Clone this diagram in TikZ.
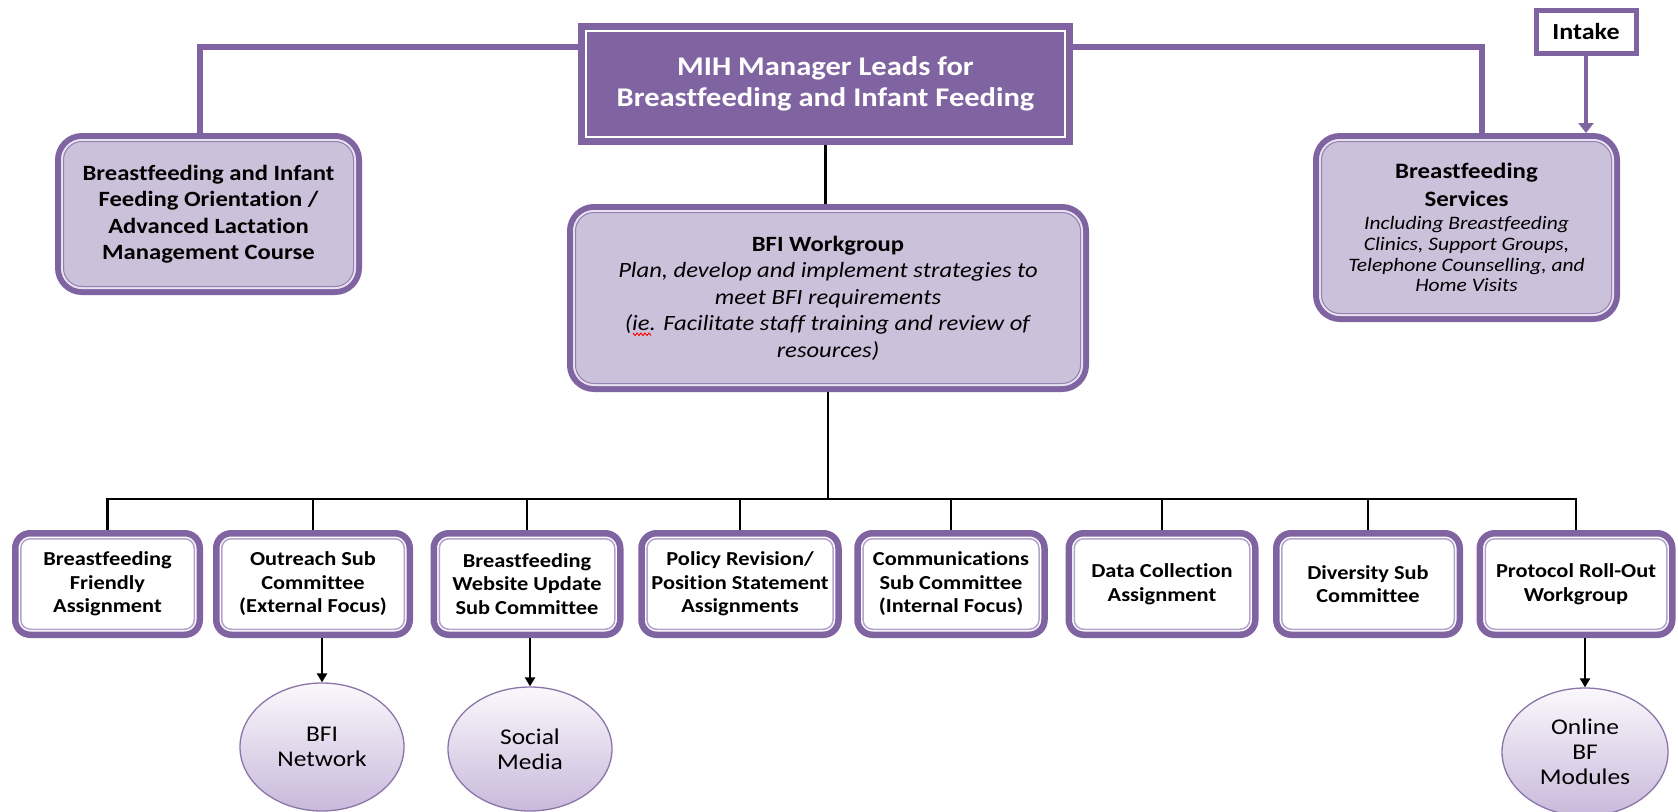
\documentclass[tikz,border=0pt]{standalone}
\usepackage{fontspec}
\setmainfont{Carlito}[FakeStretch=1.13,Ligatures=NoCommon]
\usetikzlibrary{arrows.meta,shapes.geometric}
\definecolor{pmain}{HTML}{8064A2}
\definecolor{plav}{HTML}{CCC1DA}
\definecolor{pline}{HTML}{B4A3CC}
\definecolor{plight}{HTML}{E8E2F0}
\definecolor{pthin}{HTML}{9580B2}
\definecolor{pedge}{HTML}{8A75A9}
\definecolor{ptop}{HTML}{FAF8FC}
\definecolor{pbot}{HTML}{C9B9DB}
\begin{document}
\begin{tikzpicture}[x=1pt,y=-1pt,
  every node/.style={inner sep=0pt, align=center},
  mihbox/.style={fill=pmain, text=white, minimum width=495pt, minimum height=122pt, font=\fontsize{27}{31}\selectfont\bfseries},
  lavbox/.style={draw=pmain, line width=6pt, fill=plav, rounded corners=24pt},
  subbox/.style={draw=pmain, line width=6.5pt, fill=white, rounded corners=15pt, minimum height=101.5pt, font=\fontsize{19.8}{23.5}\selectfont\bfseries},
  intakebox/.style={draw=pmain, line width=5pt, fill=white, minimum width=100pt, minimum height=43pt, font=\fontsize{23}{25}\selectfont\bfseries},
  oval/.style={ellipse, draw=pedge, line width=1.3pt, top color=ptop, bottom color=pbot, font=\fontsize{22.5}{25}\selectfont},
  bline/.style={line width=2.5pt, draw=black},
  barrow/.style={bline, -{Triangle[width=10pt,length=9pt]}},
  pconn/.style={draw=pmain, line width=6pt},
  parrow/.style={draw=pmain, line width=4pt, -{Triangle[width=15pt,length=10pt]}},
  wline/.style={draw=pline, line width=1.5pt},
  lline/.style={draw=plight, line width=2pt},
  tline/.style={draw=pthin, line width=1pt},
  squig/.style={draw=red, line width=0.9pt},
]
\fill[white] (0,0) rectangle (1678,811);
\useasboundingbox (0,0) rectangle (1678,811);

% top
\node[mihbox] (mih) at (825.5,84) {MIH Manager Leads for\\Breastfeeding and Infant Feeding};
\draw[white, line width=2pt] ([xshift=8pt,yshift=-8pt]mih.north west) rectangle ([xshift=-8pt,yshift=8pt]mih.south east);

\node[lavbox, minimum width=301pt, minimum height=156pt, font=\fontsize{21.8}{26.5}\selectfont\bfseries] (orient) at (208.5,214)
  {Breastfeeding and Infant\\Feeding Orientation /\\Advanced Lactation\\Management Course};

\node[lavbox, minimum width=301pt, minimum height=183pt, font=\fontsize{19}{20.8}\selectfont\itshape] (serv) at (1466.5,227.5)
  {{\fontsize{22}{26}\selectfont\bfseries\upshape Breastfeeding}\\[7pt]
   {\fontsize{22}{26}\selectfont\bfseries\upshape Services}\\[2.5pt]
   Including Breastfeeding\\Clinics, Support Groups,\\Telephone Counselling, and\\Home Visits};

\node[intakebox] (intake) at (1586,32) {Intake};

\node[lavbox, minimum width=516pt, minimum height=182pt, font=\fontsize{21.8}{26.5}\selectfont] (bfi) at (828,298)
  {\textbf{BFI Workgroup}\\\textit{Plan, develop and implement strategies to}\\\textit{meet BFI requirements}\\\textit{(ie. Facilitate staff training and review of}\\\textit{resources)}};
% spell-check mark under "ie"
\draw[squig] (633,333) -- (635,335.5) -- (637,333) -- (639,335.5) -- (641,333) -- (643,335.5) -- (645,333) -- (647,335.5) -- (649,333) -- (651,335.5);

\foreach \n in {orient,bfi,serv}{
  \draw[lline, rounded corners=20pt] ([xshift=7pt,yshift=-7pt]\n.north west) rectangle ([xshift=-7pt,yshift=7pt]\n.south east);
  \draw[tline, rounded corners=18.5pt] ([xshift=8.5pt,yshift=-8.5pt]\n.north west) rectangle ([xshift=-8.5pt,yshift=8.5pt]\n.south east);
}

% bottom row
\node[subbox, minimum width=184.5pt] (b1) at (107.5,584) {Breastfeeding\\Friendly\\Assignment};
\node[subbox, minimum width=193.5pt] (b2) at (313,584) {Outreach Sub\\Committee\\(External Focus)};
\node[subbox, minimum width=186.5pt] (b3) at (527,584) {Breastfeeding\\Website Update\\Sub Committee};
\node[subbox, minimum width=197pt] (b4) at (740,584) {Policy Revision/\\Position Statement\\Assignments};
\node[subbox, minimum width=187pt] (b5) at (951,584) {Communications\\Sub Committee\\(Internal Focus)};
\node[subbox, minimum width=186.5pt] (b6) at (1162,584) {Data Collection\\Assignment};
\node[subbox, minimum width=183.5pt] (b7) at (1368,584) {Diversity Sub\\Committee};
\node[subbox, minimum width=192.5pt] (b8) at (1576,584) {Protocol Roll-Out\\Workgroup};

\foreach \n in {b1,b2,b3,b4,b5,b6,b7,b8}{
  \draw[wline, rounded corners=9.5pt] ([xshift=8.75pt,yshift=-8.75pt]\n.north west) rectangle ([xshift=-8.75pt,yshift=8.75pt]\n.south east);
}

\node[oval, minimum width=164pt, minimum height=128pt] (e1) at (322,747) {BFI\\Network};
\node[oval, minimum width=164pt, minimum height=124pt] (e2) at (530,749) {Social\\Media};
\node[oval, minimum width=166pt, minimum height=128pt] (e3) at (1585,752) {Online\\BF\\Modules};

% connectors
\coordinate (lt) at (200,47);
\coordinate (rt) at (1482,47);
\coordinate (bus) at (0,499);
\draw[pconn] (mih.west |- lt) -- (lt) -- (lt |- orient.north);
\draw[pconn] (mih.east |- rt) -- (rt) -- (rt |- serv.north);
\draw[parrow] (intake.south) -- (intake.south |- serv.north);

\draw[bline] (mih.south) -- (mih.south |- bfi.north);
\draw[bline] (bfi.south) -- (bfi.south |- bus);
\draw[bline] (b1.north) -- (b1.north |- bus) -- (b8.north |- bus) -- (b8.north);
\foreach \n in {b2,b3,b4,b5,b6,b7}{
  \draw[bline] (\n.north) -- (\n.north |- bus);
}
\draw[barrow] (b2.south -| e1.north) -- (e1.north);
\draw[barrow] (b3.south -| e2.north) -- (e2.north);
\draw[barrow] (b8.south -| e3.north) -- (e3.north);
\end{tikzpicture}
\end{document}
